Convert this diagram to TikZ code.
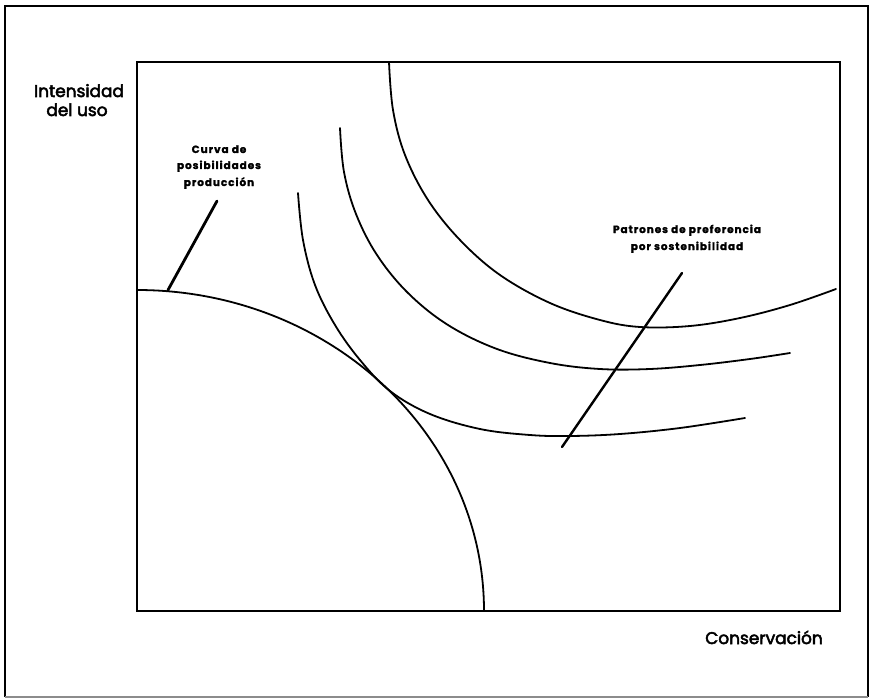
\documentclass[tikz,border=0pt]{standalone}
\usepackage{fontspec}
\setmainfont{Poppins}
\newfontfamily\axisfont{Poppins}[FakeBold=3]
\newfontfamily\tagfont{Poppins}[LetterSpace=9,BoldFeatures={FakeBold=1.5}]
\begin{document}
\begin{tikzpicture}[x=1bp,y=-1bp,
  frame/.style={line width=2bp},
  curve/.style={line width=1.8bp,line cap=round},
  leader/.style={line width=2.8bp,line cap=round},
  axislabel/.style={font=\axisfont\fontsize{17}{18}\selectfont,anchor=base,inner sep=0pt},
  smalllabel/.style={font=\tagfont\bfseries\fontsize{10.5}{12}\selectfont,anchor=base,inner sep=0pt}]
\useasboundingbox (0,0) rectangle (873,698);
% outer frame
\draw[line width=2.5bp] (5,697) -- (5,6) -- (868,6) -- (868,697);
\draw[line width=1.5bp,black!45] (5,697) -- (868,697);
% inner box
\draw[frame] (137,62) rectangle (840,611);
% production possibilities curve
\draw[curve] (137,290) arc[start angle=-90,end angle=0,x radius=347,y radius=321];
% preference curves
\draw[curve] plot[smooth,tension=0.6] coordinates {(298,193) (303,240) (315,285) (335,325) (360,360) (390,391) (430,414) (480,429) (530,435) (570,436) (620,434) (680,428) (745,418)};
\draw[curve] plot[smooth,tension=0.6] coordinates {(340,128) (344,172) (356,214) (377,255) (408,293) (448,325) (497,349) (550,363) (600,369) (650,369) (700,365) (750,359) (790,353)};
\draw[curve] plot[smooth,tension=0.6] coordinates {(389,62) (393,110) (405,155) (428,200) (460,240) (500,275) (550,303) (600,320) (640,327) (690,326) (740,318) (790,305) (836,289)};
% labels
\node[axislabel] (yl1) at (79,97) {Intensidad};
\node[axislabel] (yl2) at (77,116) {del uso};
\node[axislabel] (xl) at (764,644) {Conservación};
\node[smalllabel] (c1) at (219,153) {Curva de};
\node[smalllabel] (c2) at (219,169) {posibilidades};
\node[smalllabel] (c3) at (219,186) {producción};
\node[smalllabel] (p1) at (687,233) {Patrones de preferencia};
\node[smalllabel] (p2) at (687,250) {por sostenibilidad};
\coordinate (ca) at (168,290);
\coordinate (cb) at (217,201);
\coordinate (pa) at (562,447);
\coordinate (pb) at (682,273);
\draw[leader] (ca) -- (cb);
\draw[leader,line width=2.4bp] (pa) -- (pb);
\end{tikzpicture}
\end{document}
